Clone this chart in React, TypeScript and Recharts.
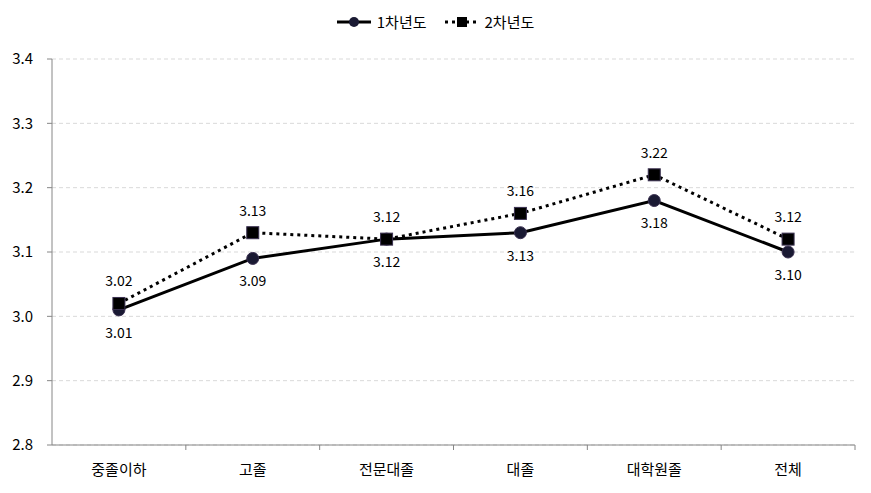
import React from "react";
import {
  LineChart,
  Line,
  XAxis,
  YAxis,
  CartesianGrid,
  LabelList,
} from "recharts";

const categories = ["중졸이하", "고졸", "전문대졸", "대졸", "대학원졸", "전체"];
const year1 = [3.01, 3.09, 3.12, 3.13, 3.18, 3.1];
const year2 = [3.02, 3.13, 3.12, 3.16, 3.22, 3.12];
const yTicks = [2.8, 2.9, 3.0, 3.1, 3.2, 3.3, 3.4];

const data = categories.map((name, i) => ({ name, y1: year1[i], y2: year2[i] }));

const FONT = "'Noto Sans CJK KR', 'Noto Sans', sans-serif";
const BAND = (855 - 52) / categories.length;

// category label at center, tick mark at the right edge of each band
const XTick = (props: any) => {
  const { x, y, payload } = props;
  return (
    <g>
      <line x1={x + BAND / 2} x2={x + BAND / 2} y1={y - 8} y2={y - 3} stroke="#868686" />
      <text x={x} y={y + 22} textAnchor="middle" fontSize={15} fill="#000" fontFamily={FONT}>
        {payload.value}
      </text>
    </g>
  );
};

const Legend = () => (
  <div
    style={{
      position: "absolute",
      top: 11,
      left: 0,
      width: 871,
      display: "flex",
      justifyContent: "center",
      alignItems: "center",
      gap: 18,
      fontFamily: FONT,
      fontSize: 15,
      color: "#000",
    }}
  >
    <span style={{ display: "flex", alignItems: "center", gap: 6 }}>
      <svg width="34" height="14">
        <line x1="0" x2="34" y1="7" y2="7" stroke="#000" strokeWidth={3} />
        <circle cx="17" cy="7" r="5" fill="#1a1a33" />
      </svg>
      1차년도
    </span>
    <span style={{ display: "flex", alignItems: "center", gap: 6 }}>
      <svg width="34" height="14">
        <line x1="0" x2="34" y1="7" y2="7" stroke="#000" strokeWidth={3} strokeDasharray="3 4" />
        <rect x="12" y="2" width="10" height="10" fill="#000" />
      </svg>
      2차년도
    </span>
  </div>
);

const Square = (props: any) => {
  const { cx, cy } = props;
  if (cx == null || cy == null) return null;
  return <rect x={cx - 6} y={cy - 6} width={12} height={12} fill="#000" stroke="#3a3050" strokeWidth={1} />;
};

const fmt = (v: any) => Number(v).toFixed(2);

export default function App() {
  return (
    <div style={{ position: "absolute", left: 0, top: 0, width: 871, height: 493, background: "#fff" }}>
      <Legend />
      <LineChart
        width={871}
        height={493}
        data={data}
        margin={{ top: 59, right: 16, left: 0, bottom: 18 }}
      >
        <CartesianGrid vertical={false} stroke="#d9d9d9" strokeDasharray="4 3" />
        <XAxis
          dataKey="name"
          height={30}
          stroke="#868686"
          tickLine={false}
          tick={<XTick />}
          interval={0}
          padding={{ left: BAND / 2, right: BAND / 2 }}
        />
        <YAxis
          width={52}
          domain={[2.8, 3.4]}
          ticks={yTicks}
          tickFormatter={(v) => v.toFixed(1)}
          stroke="#868686"
          tickSize={5}
          tickMargin={14}
          tick={{ fill: "#000", fontSize: 15, fontFamily: FONT }}
        />
        <Line
          dataKey="y1"
          stroke="#000"
          strokeWidth={3}
          dot={{ r: 6, fill: "#1a1a33", stroke: "#3a3050", strokeWidth: 1 }}
          isAnimationActive={false}
        >
          <LabelList
            dataKey="y1"
            position="bottom"
            offset={18}
            formatter={fmt}
            style={{ fontSize: 14, fill: "#000", fontFamily: FONT }}
          />
        </Line>
        <Line
          dataKey="y2"
          stroke="#000"
          strokeWidth={3}
          strokeDasharray="3 4"
          dot={<Square />}
          isAnimationActive={false}
        >
          <LabelList
            dataKey="y2"
            position="top"
            offset={17}
            formatter={fmt}
            style={{ fontSize: 14, fill: "#000", fontFamily: FONT }}
          />
        </Line>
      </LineChart>
    </div>
  );
}
